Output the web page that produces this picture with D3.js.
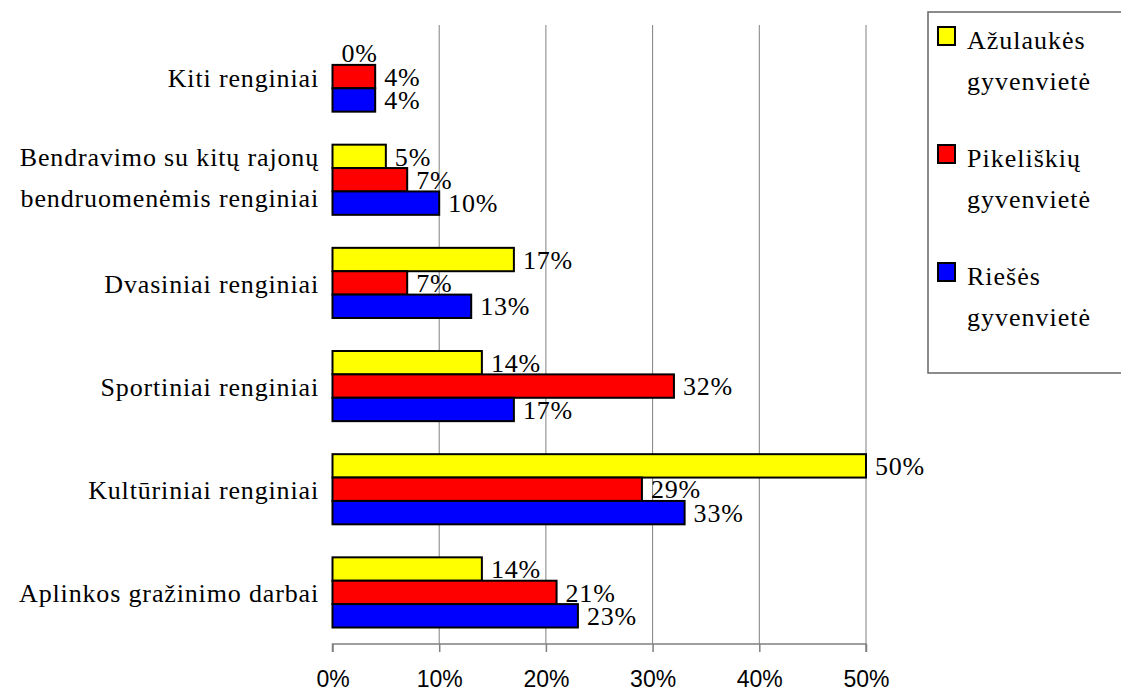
<!DOCTYPE html>
<html>
<head>
<meta charset="utf-8">
<script src="https://cdn.jsdelivr.net/npm/d3@7/dist/d3.min.js"></script>
<style>
  html, body { margin: 0; padding: 0; background: #fff; }
  svg { display: block; }
</style>
</head>
<body>
<svg id="chart" width="1121" height="691"></svg>
<script>
const categories = [
  ["Kiti renginiai"],
  ["Bendravimo su kitų rajonų", "bendruomenėmis renginiai"],
  ["Dvasiniai renginiai"],
  ["Sportiniai renginiai"],
  ["Kultūriniai renginiai"],
  ["Aplinkos gražinimo darbai"]
];
const seriesNames = [
  ["Ažulaukės", "gyvenvietė"],
  ["Pikeliškių", "gyvenvietė"],
  ["Riešės", "gyvenvietė"]
];
const seriesColors = ["#ffff00", "#ff0000", "#0000ff"];
const azulaukes   = [0, 5, 17, 14, 50, 14];
const pikeliskiu  = [4, 7, 7, 32, 29, 21];
const riesės      = [4, 10, 13, 17, 33, 23];
const seriesValues = [azulaukes, pikeliskiu, riesės];
const xTicks = [0, 10, 20, 30, 40, 50];

const svg = d3.select("#chart");
const serif = "'Liberation Serif', 'Times New Roman', Times, serif";
const sans = "'Liberation Sans', Arial, Helvetica, sans-serif";

const x = d3.scaleLinear().domain([0, 50]).range([332.5, 866]);
const catKeys = categories.map((c, i) => i);
const y = d3.scaleBand().domain(catKeys).range([25, 644]).paddingInner(0.32).paddingOuter(0.16);
const ySub = d3.scaleBand().domain([0, 1, 2]).range([0, y.bandwidth()]);

// gridlines
svg.append("g").selectAll("line").data(xTicks.slice(1)).join("line")
  .attr("x1", d => x(d)).attr("x2", d => x(d))
  .attr("y1", 25).attr("y2", 644)
  .attr("stroke", "#808080").attr("stroke-width", 1);

// x axis
const axis = d3.axisBottom(x).tickValues(xTicks).tickSize(8).tickFormat(d => d + "%");
const gx = svg.append("g").attr("transform", "translate(0,644)").call(axis);
gx.select(".domain").attr("stroke", "#808080").attr("stroke-width", 1.5).attr("d", `M${x(0)},8V0H${x(50)}V8`);
gx.selectAll(".tick line").attr("stroke", "#808080").attr("stroke-width", 1.5);
gx.selectAll(".tick text").attr("font-family", sans).attr("font-size", 23).attr("fill", "#000")
  .attr("dy", null).attr("y", 43);

// bars
const groups = svg.append("g").selectAll("g").data(catKeys).join("g")
  .attr("transform", d => `translate(0,${y(d)})`);

groups.each(function(ci) {
  const g = d3.select(this);
  seriesValues.forEach((vals, si) => {
    const v = vals[ci];
    if (v > 0) {
      g.append("rect")
        .attr("x", x(0)).attr("y", ySub(si))
        .attr("width", x(v) - x(0)).attr("height", ySub.bandwidth())
        .attr("fill", seriesColors[si]).attr("stroke", "#000").attr("stroke-width", 2);
    }
    g.append("text")
      .attr("x", x(v) + 9).attr("y", ySub(si) + ySub.bandwidth() - 2.5)
      .attr("font-family", serif).attr("font-size", 26).attr("letter-spacing", 0.8).attr("fill", "#000")
      .text(v + "%");
  });
});

// category labels
svg.append("g").selectAll("text").data(catKeys).join("text")
  .attr("text-anchor", "end")
  .attr("font-family", serif).attr("font-size", 26).attr("letter-spacing", 0.85).attr("fill", "#000")
  .each(function(ci) {
    const lines = categories[ci];
    const cy = y(ci) + y.bandwidth() / 2;
    const t = d3.select(this);
    if (lines.length === 1) {
      t.append("tspan").attr("x", 319).attr("y", cy + 10).text(lines[0]);
    } else {
      t.append("tspan").attr("x", 319).attr("y", cy - 14).text(lines[0]);
      t.append("tspan").attr("x", 319).attr("y", cy + 27).text(lines[1]);
    }
  });

// legend
const lg = svg.append("g");
lg.append("rect").attr("x", 928).attr("y", 12).attr("width", 200).attr("height", 361)
  .attr("fill", "#fff").attr("stroke", "#666").attr("stroke-width", 1.5);
seriesNames.forEach((name, si) => {
  const oy = 27 + si * 118;
  lg.append("rect").attr("x", 938).attr("y", oy).attr("width", 17).attr("height", 18)
    .attr("fill", seriesColors[si]).attr("stroke", "#000").attr("stroke-width", 2);
  const t = lg.append("text").attr("font-family", serif).attr("font-size", 26)
    .attr("letter-spacing", 1).attr("fill", "#000");
  t.append("tspan").attr("x", 967).attr("y", oy + 22).text(name[0]);
  t.append("tspan").attr("x", 967).attr("y", oy + 63).text(name[1]);
});
</script>
</body>
</html>
